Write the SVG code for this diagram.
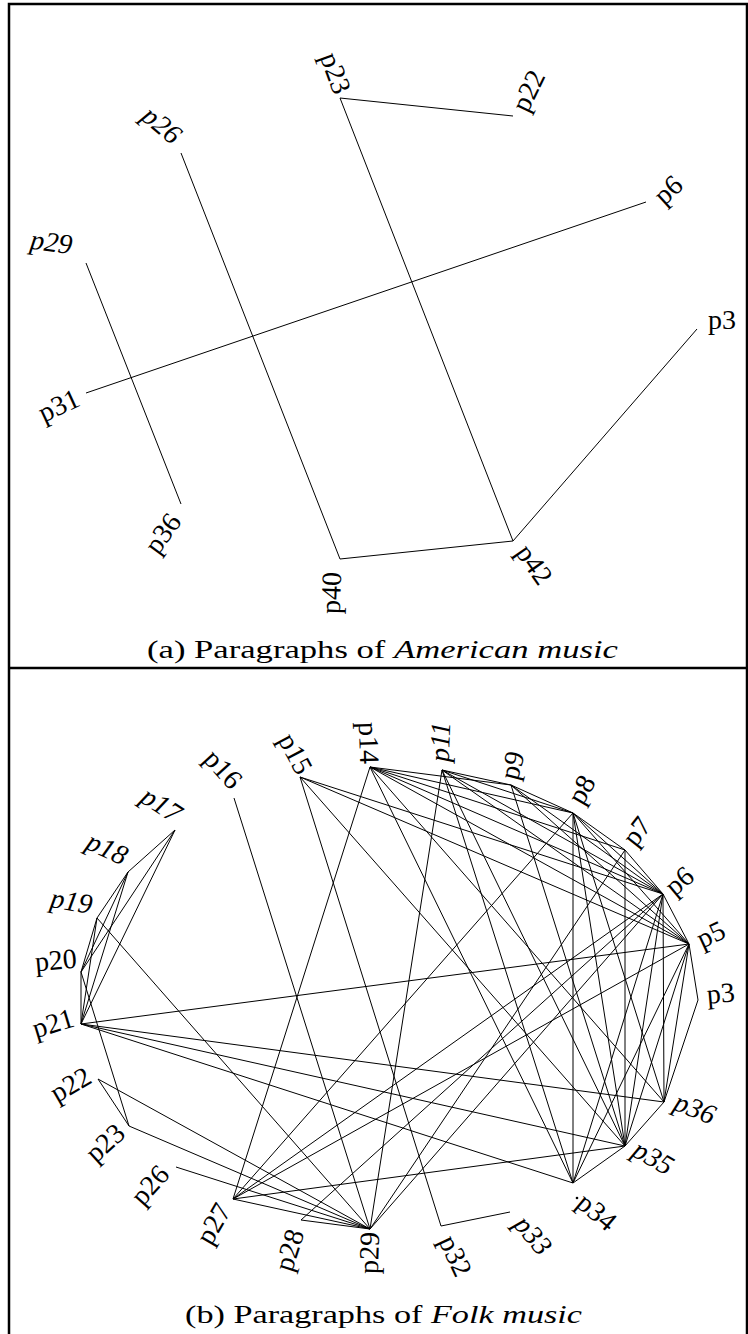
<svg xmlns="http://www.w3.org/2000/svg" width="748" height="1334" viewBox="0 0 748 1334">
<style>
.lbl{font-family:"Liberation Serif","Times New Roman",serif;font-size:28px;fill:#000;text-anchor:middle}
.it{font-style:italic}
.cap{font-family:"Liberation Serif","Times New Roman",serif;font-size:26px;fill:#000}
.e line{stroke:#000;stroke-width:1;fill:none}
.frame{stroke:#000;stroke-width:2.5;fill:none}
</style>
<rect width="748" height="1334" fill="#fff"/>
<g id="frame">
<path class="frame" d="M9,1334 V4 H747 V1334"/>
<line class="frame" x1="9" y1="668" x2="747" y2="668"/>
</g>
<g id="connectors-a" class="e">
<line x1="340" y1="98" x2="513" y2="116"/>
<line x1="340" y1="98" x2="513" y2="541"/>
<line x1="181" y1="153" x2="340" y2="559"/>
<line x1="340" y1="559" x2="513" y2="541"/>
<line x1="513" y1="541" x2="697" y2="329"/>
<line x1="86" y1="393" x2="646" y2="202"/>
<line x1="86" y1="263" x2="181" y2="504"/>
</g>
<g id="a-p23"><text class="lbl" transform="translate(333,74) rotate(70)" dy="0.23em">p23</text></g>
<g id="a-p22"><text class="lbl" transform="translate(531,92) rotate(-64)" dy="0.23em">p22</text></g>
<g id="a-p26"><text class="lbl it" transform="translate(160,127) rotate(40)" dy="0.23em">p26</text></g>
<g id="a-p6"><text class="lbl" transform="translate(670,192) rotate(-42)" dy="0.23em">p6</text></g>
<g id="a-p29"><text class="lbl it" transform="translate(51,245) rotate(8)" dy="0.23em">p29</text></g>
<g id="a-p3"><text class="lbl" transform="translate(722,323) rotate(0)" dy="0.23em">p3</text></g>
<g id="a-p31"><text class="lbl" transform="translate(60,408) rotate(-25)" dy="0.23em">p31</text></g>
<g id="a-p36"><text class="lbl" transform="translate(165,535) rotate(-54)" dy="0.23em">p36</text></g>
<g id="a-p40"><text class="lbl" transform="translate(334,593) rotate(-88)" dy="0.23em">p40</text></g>
<g id="a-p42"><text class="lbl" transform="translate(532,566) rotate(55)" dy="0.23em">p42</text></g>
<g id="caption-a"><text class="cap" x="147" y="658" textLength="471" lengthAdjust="spacingAndGlyphs">(a) Paragraphs of <tspan font-style="italic">American music</tspan></text></g>
<g id="connectors-b" class="e">
<line x1="175" y1="830" x2="128" y2="872"/>
<line x1="175" y1="830" x2="81" y2="972"/>
<line x1="175" y1="830" x2="81" y2="1024"/>
<line x1="128" y1="872" x2="97" y2="918"/>
<line x1="128" y1="872" x2="81" y2="972"/>
<line x1="128" y1="872" x2="81" y2="1024"/>
<line x1="97" y1="918" x2="81" y2="972"/>
<line x1="97" y1="918" x2="81" y2="1024"/>
<line x1="81" y1="972" x2="81" y2="1024"/>
<line x1="81" y1="972" x2="129" y2="1126"/>
<line x1="97" y1="918" x2="370" y2="1229"/>
<line x1="98" y1="1079" x2="129" y2="1126"/>
<line x1="98" y1="1079" x2="370" y2="1229"/>
<line x1="129" y1="1126" x2="370" y2="1229"/>
<line x1="176" y1="1167" x2="370" y2="1229"/>
<line x1="81" y1="1024" x2="689" y2="944"/>
<line x1="81" y1="1024" x2="664" y2="1102"/>
<line x1="81" y1="1024" x2="625" y2="1146"/>
<line x1="81" y1="1024" x2="573" y2="1183"/>
<line x1="234" y1="798" x2="370" y2="1229"/>
<line x1="300" y1="777" x2="441" y2="1226"/>
<line x1="300" y1="777" x2="625" y2="1146"/>
<line x1="300" y1="777" x2="663" y2="894"/>
<line x1="300" y1="777" x2="689" y2="944"/>
<line x1="370" y1="767" x2="233" y2="1199"/>
<line x1="370" y1="767" x2="573" y2="1183"/>
<line x1="370" y1="767" x2="511" y2="785"/>
<line x1="370" y1="767" x2="573" y2="813"/>
<line x1="370" y1="767" x2="625" y2="850"/>
<line x1="370" y1="767" x2="663" y2="894"/>
<line x1="370" y1="767" x2="689" y2="944"/>
<line x1="370" y1="767" x2="664" y2="1102"/>
<line x1="442" y1="770" x2="370" y2="1229"/>
<line x1="442" y1="770" x2="511" y2="785"/>
<line x1="442" y1="770" x2="573" y2="813"/>
<line x1="442" y1="770" x2="663" y2="894"/>
<line x1="442" y1="770" x2="689" y2="944"/>
<line x1="442" y1="770" x2="573" y2="1183"/>
<line x1="442" y1="770" x2="625" y2="1146"/>
<line x1="511" y1="785" x2="573" y2="813"/>
<line x1="511" y1="785" x2="663" y2="894"/>
<line x1="511" y1="785" x2="689" y2="944"/>
<line x1="511" y1="785" x2="625" y2="1146"/>
<line x1="573" y1="813" x2="625" y2="850"/>
<line x1="573" y1="813" x2="663" y2="894"/>
<line x1="573" y1="813" x2="689" y2="944"/>
<line x1="573" y1="813" x2="573" y2="1183"/>
<line x1="573" y1="813" x2="625" y2="1146"/>
<line x1="573" y1="813" x2="664" y2="1102"/>
<line x1="573" y1="813" x2="233" y2="1199"/>
<line x1="625" y1="850" x2="663" y2="894"/>
<line x1="625" y1="850" x2="625" y2="1146"/>
<line x1="625" y1="850" x2="370" y2="1229"/>
<line x1="663" y1="894" x2="689" y2="944"/>
<line x1="663" y1="894" x2="664" y2="1102"/>
<line x1="663" y1="894" x2="625" y2="1146"/>
<line x1="663" y1="894" x2="573" y2="1183"/>
<line x1="663" y1="894" x2="233" y2="1199"/>
<line x1="663" y1="894" x2="301" y2="1220"/>
<line x1="663" y1="894" x2="370" y2="1229"/>
<line x1="689" y1="944" x2="698" y2="1000"/>
<line x1="689" y1="944" x2="664" y2="1102"/>
<line x1="689" y1="944" x2="625" y2="1146"/>
<line x1="689" y1="944" x2="573" y2="1183"/>
<line x1="689" y1="944" x2="233" y2="1199"/>
<line x1="698" y1="1000" x2="664" y2="1102"/>
<line x1="664" y1="1102" x2="625" y2="1146"/>
<line x1="625" y1="1146" x2="573" y2="1183"/>
<line x1="233" y1="1199" x2="370" y2="1229"/>
<line x1="301" y1="1220" x2="370" y2="1229"/>
<line x1="233" y1="1199" x2="625" y2="1146"/>
<line x1="441" y1="1226" x2="510" y2="1212"/>
</g>
<g id="b-p14"><text class="lbl" transform="translate(366,743) rotate(88)" dy="0.23em">p14</text></g>
<g id="b-p15"><text class="lbl" transform="translate(293,755) rotate(62)" dy="0.23em">p15</text></g>
<g id="b-p16"><text class="lbl" transform="translate(221,771) rotate(48)" dy="0.23em">p16</text></g>
<g id="b-p17"><text class="lbl it" transform="translate(160,807) rotate(33)" dy="0.23em">p17</text></g>
<g id="b-p18"><text class="lbl it" transform="translate(106,851) rotate(25)" dy="0.23em">p18</text></g>
<g id="b-p19"><text class="lbl it" transform="translate(71,904) rotate(10)" dy="0.23em">p19</text></g>
<g id="b-p20"><text class="lbl" transform="translate(56,963) rotate(-5)" dy="0.23em">p20</text></g>
<g id="b-p21"><text class="lbl" transform="translate(54,1026) rotate(-17)" dy="0.23em">p21</text></g>
<g id="b-p22"><text class="lbl" transform="translate(72,1087) rotate(-30)" dy="0.23em">p22</text></g>
<g id="b-p23"><text class="lbl" transform="translate(107,1145) rotate(-42)" dy="0.23em">p23</text></g>
<g id="b-p26"><text class="lbl" transform="translate(152,1187) rotate(-48)" dy="0.23em">p26</text></g>
<g id="b-p27"><text class="lbl" transform="translate(216,1225) rotate(-60)" dy="0.23em">p27</text></g>
<g id="b-p28"><text class="lbl" transform="translate(292,1251) rotate(-72)" dy="0.23em">p28</text></g>
<g id="b-p29"><text class="lbl" transform="translate(372,1253) rotate(-88)" dy="0.23em">p29</text></g>
<g id="b-p32"><text class="lbl" transform="translate(453,1257) rotate(65)" dy="0.23em">p32</text></g>
<g id="b-p33"><text class="lbl it" transform="translate(531,1237) rotate(50)" dy="0.23em">p33</text></g>
<g id="b-p34"><text class="lbl" transform="translate(595,1214) rotate(40)" dy="0.23em">p34</text><circle cx="577" cy="1198" r="1.3" fill="#000"/></g>
<g id="b-p35"><text class="lbl it" transform="translate(652,1160) rotate(30)" dy="0.23em">p35</text></g>
<g id="b-p36"><text class="lbl it" transform="translate(694,1111) rotate(22)" dy="0.23em">p36</text></g>
<g id="b-p3"><text class="lbl" transform="translate(721,996) rotate(-5)" dy="0.23em">p3</text></g>
<g id="b-p5"><text class="lbl" transform="translate(712,937) rotate(-25)" dy="0.23em">p5</text></g>
<g id="b-p6"><text class="lbl" transform="translate(681,883) rotate(-40)" dy="0.23em">p6</text></g>
<g id="b-p7"><text class="lbl" transform="translate(639,833) rotate(-52)" dy="0.23em">p7</text></g>
<g id="b-p8"><text class="lbl" transform="translate(584,791) rotate(-60)" dy="0.23em">p8</text></g>
<g id="b-p9"><text class="lbl" transform="translate(515,766) rotate(-75)" dy="0.23em">p9</text></g>
<g id="b-p11"><text class="lbl it" transform="translate(443,742) rotate(-88)" dy="0.23em">p11</text></g>
<g id="caption-b"><text class="cap" x="185" y="1323" textLength="397" lengthAdjust="spacingAndGlyphs">(b) Paragraphs of <tspan font-style="italic">Folk music</tspan></text></g>
</svg>
